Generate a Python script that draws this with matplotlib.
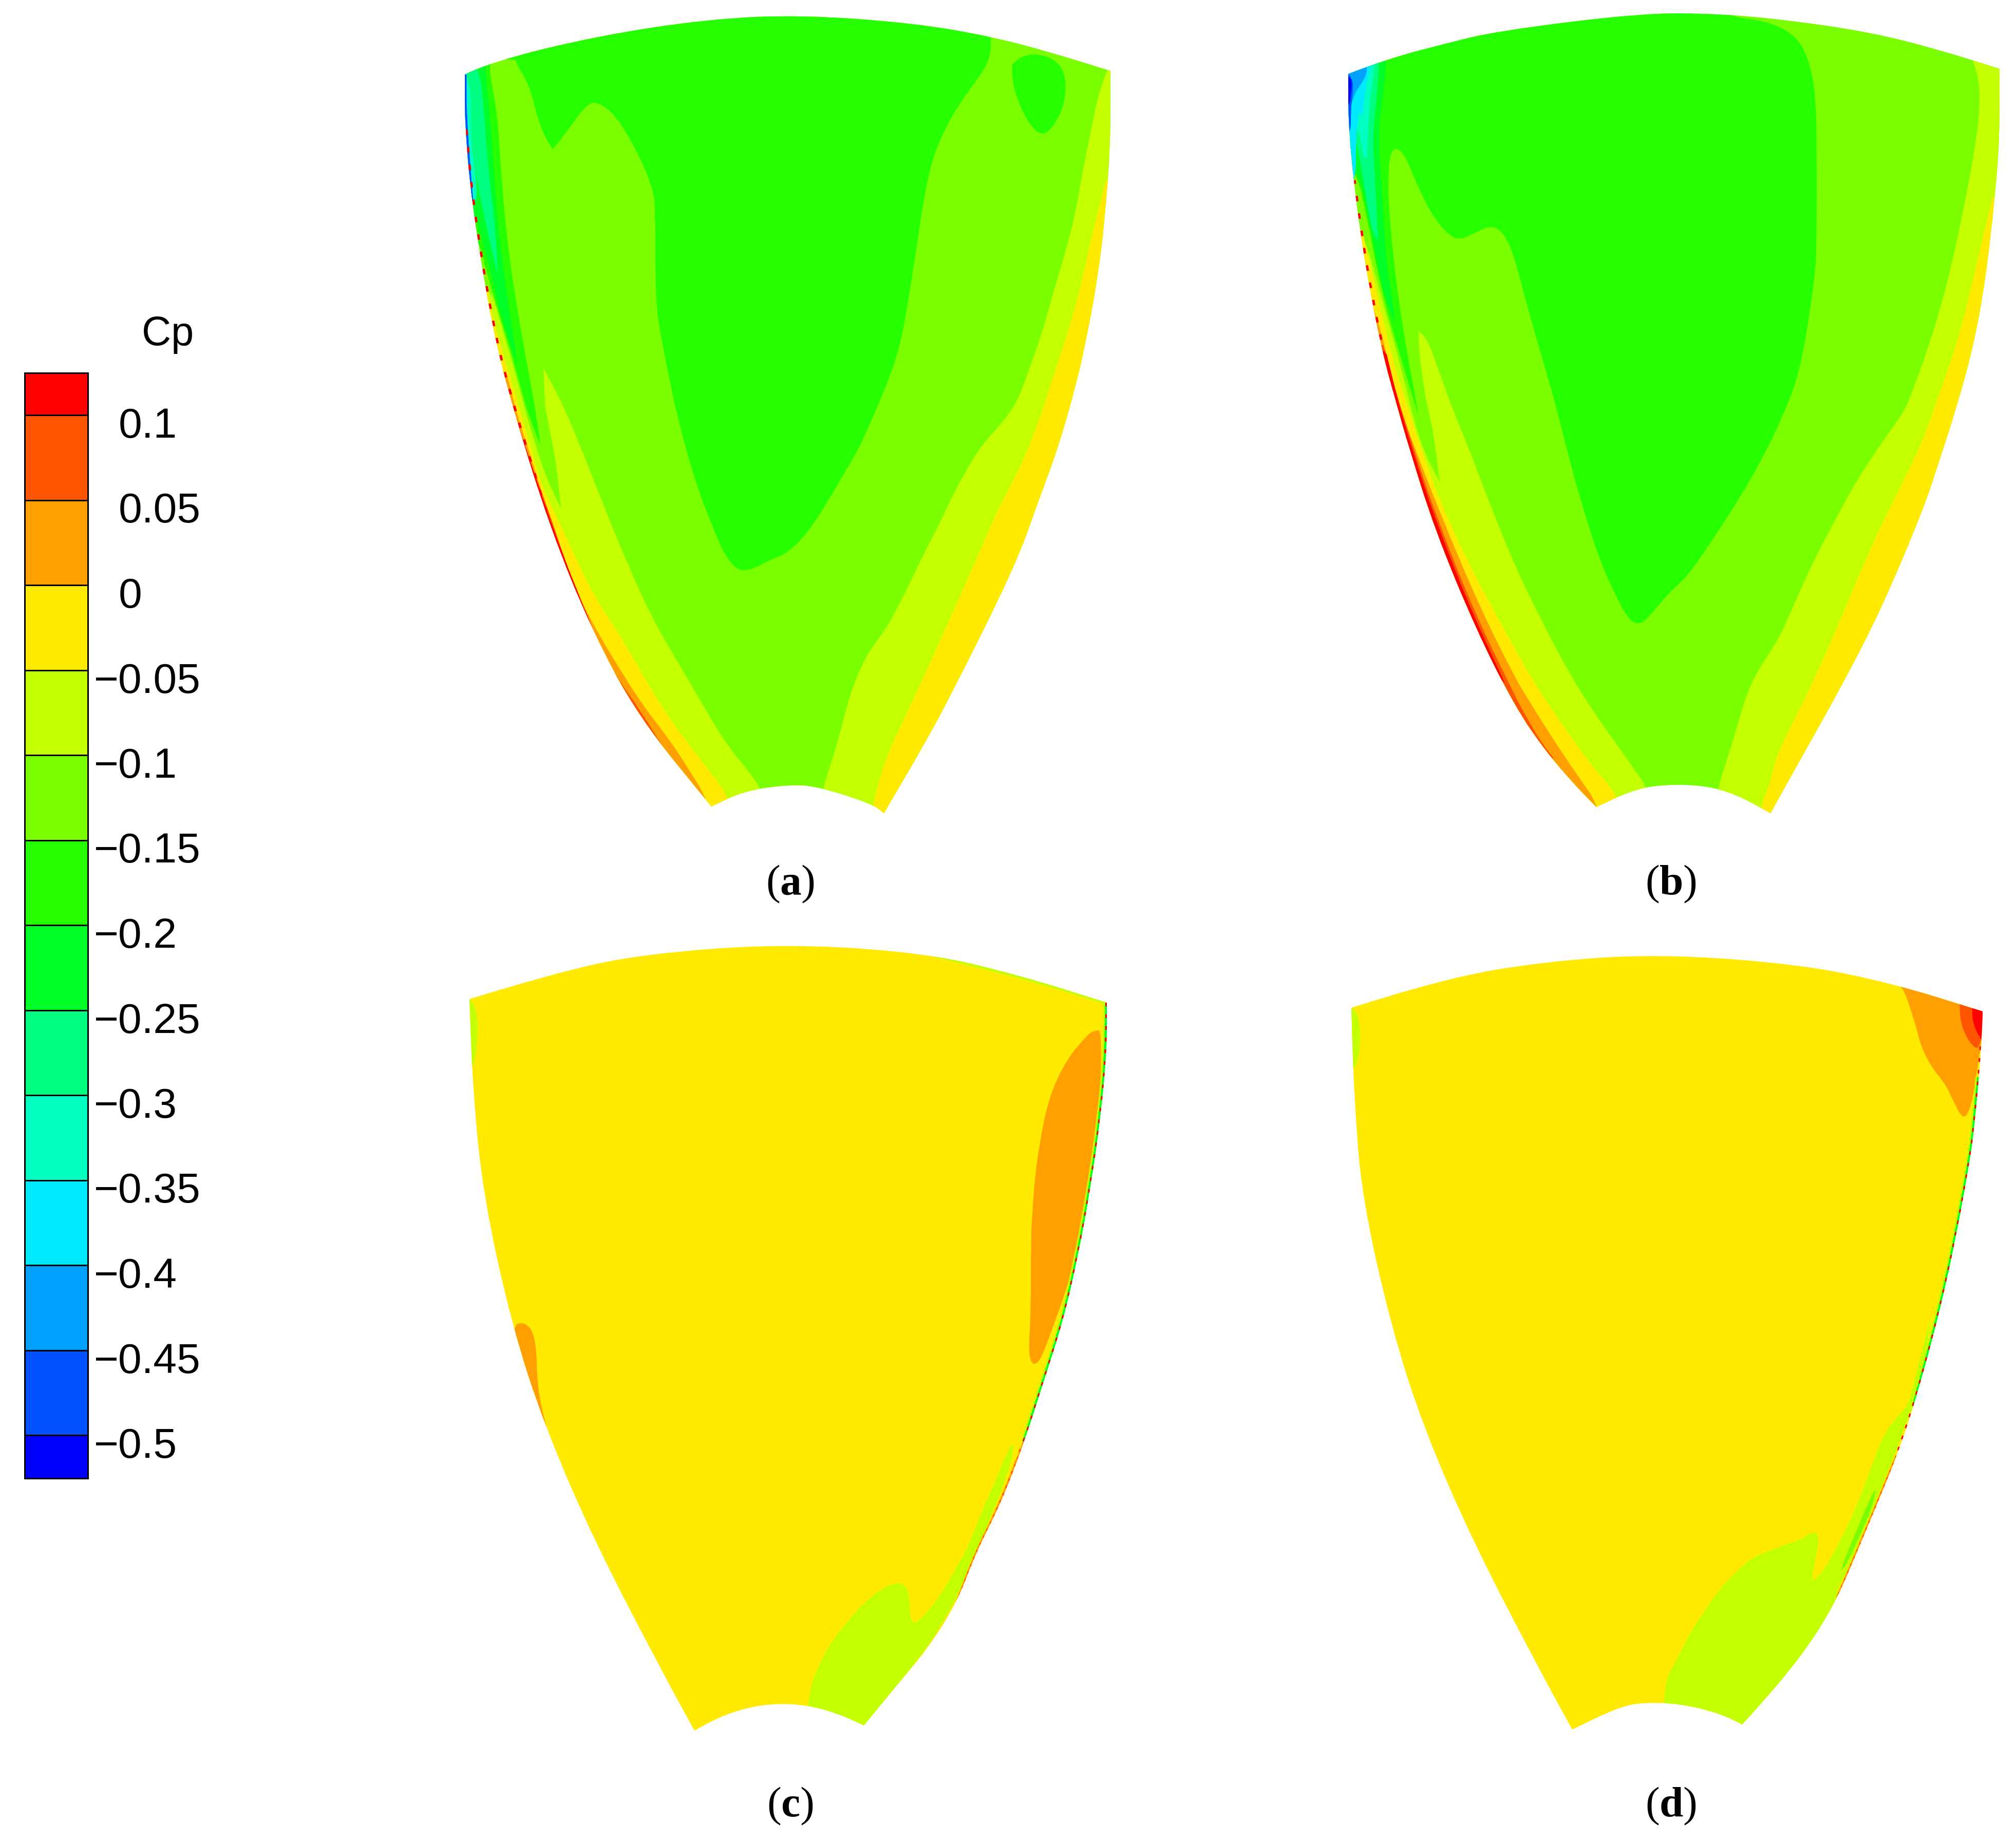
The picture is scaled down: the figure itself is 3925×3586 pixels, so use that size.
import matplotlib
matplotlib.use("Agg")
import matplotlib.pyplot as plt
from matplotlib.path import Path
from matplotlib.patches import PathPatch
import numpy as np

# --- colour bar ---
BANDS = ['#ff0000', '#ff5500', '#ffa000', '#ffea00', '#c3ff00', '#7bff00', '#26ff00',
         '#00ff26', '#00ff80', '#00ffc0', '#00eaff', '#00a0ff', '#0050ff', '#0000ff']
RED, RED2, ORANGE, YELLOW, YGREEN, LIME, GREEN, GREEN2, GREEN3, TEAL, CYAN, SKY, BLUE, NAVY = BANDS
CB_EDGES = [726, 808, 973.5, 1139, 1304.5, 1470, 1635.5, 1801, 1966.5, 2132, 2297.5, 2463, 2628.5, 2794, 2878]
CB_LABELS = ['0.1', '0.05', '0', '\u22120.05', '\u22120.1', '\u22120.15', '\u22120.2', '\u22120.25',
             '\u22120.3', '\u22120.35', '\u22120.4', '\u22120.45', '\u22120.5']

# --- panel (a), pixel coordinates ---
A_TOP = [(905, 145), (956, 120), (1168, 69), (1381, 37), (1560, 29), (1780, 45), (1929, 71), (2040, 100), (2162, 138)]
A_RIGHT = [(2162, 138), (2162, 281), (2151, 428), (2136, 549), (2113, 670), (2094, 753), (2059, 875), (2021, 977),
           (1977, 1101), (1852, 1352), (1800, 1448), (1721, 1583)]
A_HUB = [(1721, 1583), (1698, 1565), (1589, 1530), (1531, 1528), (1448, 1540), (1385, 1570)]
A_LEFT = [(1385, 1570), (1244, 1397), (1153, 1228), (1072, 1030), (1000, 800), (958, 638), (918, 393), (905, 240), (905, 145)]

A_R_YG = [(2155, 138), (2139, 179), (2124, 256), (2109, 326), (2094, 415), (2074, 492), (2051, 568), (2028, 651), (2005, 715),
          (1982, 779), (1956, 817), (1910, 868), (1879, 919), (1852, 970), (1829, 1020), (1800, 1075), (1761, 1157), (1726, 1223),
          (1698, 1259), (1675, 1300), (1652, 1361), (1629, 1453), (1603, 1530), (1590, 1600), (1800, 1600), (2250, 1000), (2250, 100)]
A_R_YEL = [(2153, 351), (2139, 409), (2124, 466), (2109, 536), (2086, 626), (2063, 696), (2040, 766), (2017, 836), (1982, 919),
           (1944, 989), (1931, 1020), (1865, 1170), (1800, 1315), (1761, 1397), (1721, 1484), (1699, 1568), (1690, 1620),
           (1800, 1620), (2250, 1000), (2250, 351)]
A_R_ORA = [(2100, 745), (2079, 818), (2051, 905), (2009, 1015), (1995, 1050), (2100, 1060), (2200, 745)]
A_L_YG = [(1058, 717), (1058, 717), (1079, 755), (1101, 800), (1129, 866), (1175, 984), (1221, 1096), (1267, 1198), (1302, 1259),
          (1359, 1356), (1416, 1453), (1482, 1530), (1500, 1600), (1300, 1600), (850, 700), (850, 545), (950, 545), (978, 638),
          (1014, 765), (1023, 800), (1032, 831), (1060, 922), (1092, 989), (1092, 989), (1083, 902), (1063, 800), (1061, 786), (1058, 717)]
A_L_YEL = [(949, 561), (949, 561), (956, 602), (971, 663), (1003, 765), (1012, 800), (1032, 866), (1055, 948), (1095, 1030), (1129, 1106),
           (1170, 1183), (1215, 1249), (1290, 1382), (1359, 1473), (1419, 1550), (1440, 1620), (1300, 1620), (850, 700), (850, 561)]
A_L_ORA = [(987, 730), (987, 730), (1009, 815), (1038, 902), (1060, 978), (1085, 1050), (1122, 1152), (1165, 1234), (1205, 1300),
           (1250, 1371), (1302, 1438), (1342, 1499), (1379, 1560), (1385, 1620), (1250, 1620), (850, 800), (850, 730)]
A_L_RO = [(1006, 815), (1006, 815), (1020, 866), (1061, 973), (1112, 1126), (1147, 1208), (1175, 1274), (1216, 1341), (1239, 1371),
          (1296, 1463), (1296, 1463), (1150, 1350), (850, 900), (850, 815)]
A_L_RED = [(1000, 800), (1000, 800), (1076, 1030), (1155, 1228), (1195, 1320), (1195, 1320), (1100, 1300), (900, 800)]
A_MAIN = [(850, 0), (1929, 0), (1929, 74), (1929, 103), (1919, 131), (1894, 166), (1864, 208), (1837, 256), (1814, 313), (1797, 396),
          (1787, 466), (1776, 536), (1764, 613), (1751, 677), (1730, 740), (1703, 804), (1672, 874), (1638, 930), (1623, 958),
          (1571, 1040), (1531, 1078), (1503, 1088), (1460, 1111), (1434, 1109), (1411, 1080), (1393, 1040), (1353, 938), (1316, 800),
          (1306, 750), (1288, 663), (1276, 587), (1276, 408), (1271, 367), (1244, 301), (1199, 224), (1163, 198), (1141, 204), (1101, 260),
          (1076, 291), (1076, 291), (1052, 250), (1030, 163), (1005, 125), (1005, 115), (954, 115), (954, 148), (969, 224), (976, 347), (989, 485),
          (1007, 602), (1027, 714), (1043, 800), (1052, 866), (1052, 866), (1026, 800), (1005, 720), (980, 638), (950, 540), (927, 449), (850, 449)]
A_POCKET = [(1971, 125), (1990, 106), (2036, 106), (2070, 131), (2076, 173), (2069, 211), (2051, 246), (2032, 263), (2013, 253),
            (1994, 224), (1977, 183), (1970, 147), (1971, 125)]
A_G2 = [(850, 100), (945, 100), (945, 138), (956, 245), (967, 423), (985, 561), (1007, 709), (1007, 709), (974, 612), (951, 510), (934, 449),
        (922, 408), (850, 400)]
A_G3 = [(922, 120), (934, 140), (942, 204), (949, 316), (965, 449), (969, 536), (969, 536), (951, 459), (927, 347), (916, 270), (880, 270), (880, 120)]
A_TEAL = [(880, 120), (918, 140), (916, 270), (927, 347), (930, 400), (880, 400)]
A_CYAN = [(880, 120), (908, 120), (911, 280), (920, 350), (920, 420), (880, 420)]

# --- panel (b) ---
B_TOP = [(2625, 144), (2697, 116), (2813, 85), (2917, 60), (3200, 25), (3348, 27), (3473, 38), (3639, 62), (3773, 96), (3893, 134)]
B_RIGHT = [(3893, 134), (3893, 271), (3884, 383), (3866, 542), (3843, 670), (3810, 791), (3773, 905), (3745, 990),
           (3664, 1183), (3588, 1331), (3511, 1468), (3447, 1583)]
B_HUB = [(3447, 1583), (3378, 1545), (3312, 1528), (3228, 1528), (3174, 1540), (3108, 1571)]
B_LEFT = [(3108, 1571), (3062, 1524), (3006, 1458), (2950, 1376), (2875, 1228), (2793, 1030), (2740, 860), (2723, 800), (2693, 693),
          (2668, 570), (2650, 463), (2635, 351), (2625, 233), (2625, 144)]

B_R_YG = [(3842, 121), (3854, 153), (3854, 223), (3842, 306), (3824, 402), (3801, 510), (3778, 600), (3750, 689), (3722, 765),
          (3708, 800), (3664, 861), (3613, 938), (3572, 1014), (3526, 1101), (3486, 1193), (3460, 1249), (3419, 1310), (3399, 1356),
          (3384, 1407), (3363, 1478), (3345, 1530), (3340, 1600), (3500, 1620), (3950, 1000), (3950, 100), (3842, 100)]
B_R_YEL = [(3880, 383), (3861, 459), (3838, 561), (3810, 670), (3778, 759), (3745, 855), (3705, 938), (3654, 1040), (3608, 1147),
           (3552, 1280), (3506, 1376), (3455, 1478), (3450, 1514), (3429, 1568), (3420, 1620), (3500, 1620), (3950, 1000), (3950, 383)]
B_MAIN = [(2600, 0), (3348, 0), (3366, 32), (3436, 41), (3482, 60), (3510, 89), (3528, 140), (3535, 198), (3537, 255), (3537, 491), (3533, 536),
          (3523, 612), (3510, 689), (3496, 746), (3475, 800), (3440, 876), (3394, 958), (3348, 1030), (3307, 1091), (3281, 1126), (3246, 1157),
          (3205, 1208), (3187, 1216), (3169, 1203), (3144, 1157), (3113, 1086), (3088, 1009), (3057, 902), (3032, 800), (3010, 723), (2973, 596),
          (2947, 494), (2927, 453), (2903, 438), (2873, 453), (2843, 467), (2820, 458), (2787, 417), (2757, 356), (2737, 305), (2720, 287), (2708, 295),
          (2703, 330), (2703, 392), (2712, 494), (2723, 585), (2737, 672), (2750, 744), (2762, 810), (2762, 810), (2735, 723), (2690, 570),
          (2660, 417), (2640, 330), (2600, 320)]
B_L_YG = [(2762, 644), (2762, 644), (2780, 662), (2800, 718), (2833, 810), (2855, 860), (2900, 980), (2950, 1103), (3001, 1208), (3052, 1305),
          (3103, 1387), (3154, 1458), (3190, 1509), (3205, 1532), (3220, 1600), (3050, 1600), (2600, 700), (2600, 443), (2652, 443), (2687, 570),
          (2730, 723), (2763, 860), (2803, 939), (2803, 939), (2793, 860), (2787, 825), (2773, 764), (2762, 677), (2762, 644)]
B_L_YEL = [(2652, 448), (2652, 448), (2680, 570), (2713, 708), (2743, 800), (2762, 860), (2800, 970), (2870, 1120), (2950, 1264), (2981, 1320),
           (3032, 1397), (3093, 1484), (3149, 1547), (3170, 1620), (3050, 1620), (2600, 700), (2600, 448)]
B_L_ORA = [(2672, 596), (2672, 596), (2687, 637), (2710, 733), (2732, 810), (2750, 860), (2800, 990), (2880, 1180), (2950, 1320), (2975, 1361),
           (3016, 1427), (3067, 1504), (3111, 1565), (3115, 1620), (3000, 1620), (2600, 800), (2600, 596)]
B_L_RO = [(2693, 672), (2693, 672), (2715, 755), (2748, 860), (2789, 985), (2865, 1180), (2950, 1356), (2970, 1392), (2996, 1438), (3026, 1478),
          (3026, 1478), (2900, 1400), (2600, 800), (2600, 672)]
B_L_RED = [(2700, 690), (2700, 690), (2719, 770), (2745, 860), (2785, 985), (2856, 1170), (2930, 1330), (2930, 1330), (2800, 1200), (2600, 600)]
B_G2 = [(2600, 100), (2698, 100), (2698, 147), (2693, 177), (2683, 264), (2693, 417), (2700, 519), (2713, 601), (2714, 626), (2714, 626),
        (2690, 560), (2668, 440), (2645, 330), (2600, 290)]
B_G3 = [(2600, 100), (2685, 100), (2685, 129), (2680, 193), (2672, 264), (2678, 366), (2683, 468), (2683, 468), (2670, 448), (2657, 366), (2643, 284),
        (2633, 250), (2600, 250)]
B_TEAL = [(2600, 100), (2677, 100), (2677, 129), (2667, 193), (2663, 264), (2662, 305), (2662, 305), (2655, 310), (2643, 238), (2600, 238)]
B_CYAN = [(2600, 100), (2670, 100), (2670, 129), (2660, 162), (2652, 228), (2652, 228), (2646, 215), (2640, 260), (2640, 365), (2600, 365)]
B_SKY = [(2600, 100), (2662, 100), (2662, 134), (2658, 152), (2637, 182), (2630, 208), (2600, 208)]
B_BLUE = [(2600, 120), (2634, 146), (2634, 182), (2630, 210), (2630, 265), (2600, 265)]
B_NAVY = [(2600, 130), (2630, 150), (2632, 162), (2630, 187), (2625, 210), (2600, 210)]

# --- panel (c) ---
C_TOP = [(914, 1945), (1076, 1895), (1252, 1857), (1527, 1837), (1802, 1855), (1983, 1898), (2155, 1952)]
C_RIGHT = [(2155, 1952), (2155, 2043), (2143, 2175), (2123, 2313), (2100, 2440), (2070, 2571), (2033, 2686), (1994, 2808), (1948, 2928),
           (1902, 3018), (1863, 3120), (1806, 3210), (1749, 3277), (1682, 3359)]
C_HUB = [(1682, 3359), (1634, 3337), (1576, 3320), (1510, 3316), (1452, 3325), (1400, 3343), (1352, 3369)]
C_LEFT = [(1352, 3369), (1289, 3254), (1159, 3004), (1061, 2778), (996, 2578), (941, 2328), (921, 2128), (914, 1945)]
C_ORANGE_BIG = [(2140, 2006), (2127, 2006), (2110, 2023), (2083, 2055), (2057, 2101), (2037, 2158), (2023, 2233), (2015, 2290), (2010, 2359),
                (2007, 2411), (2007, 2560), (2003, 2617), (2005, 2646), (2013, 2658), (2027, 2646), (2050, 2583), (2073, 2520), (2097, 2440),
                (2117, 2336), (2133, 2221), (2143, 2130), (2144, 2020), (2140, 2006)]
C_ORANGE_SMALL = [(1006, 2578), (1021, 2571), (1044, 2603), (1046, 2703), (1064, 2778), (1076, 2840), (1076, 2840), (1039, 2728), (1006, 2640), (1000, 2590)]
C_YG_HUB = [(1573, 3330), (1576, 3286), (1596, 3237), (1619, 3196), (1653, 3152), (1687, 3116), (1722, 3089), (1749, 3081), (1764, 3087), (1770, 3103),
            (1772, 3152), (1781, 3161), (1802, 3143), (1833, 3103), (1863, 3049), (1886, 3009), (1913, 2937), (1940, 2879), (1963, 2821), (1974, 2810),
            (1974, 2810), (1971, 2839), (1955, 2888), (1932, 2946), (1909, 3004), (1883, 3062), (1860, 3116), (1829, 3169), (1802, 3210), (1775, 3245),
            (1733, 3299), (1733, 3299), (1760, 3320), (1700, 3400), (1573, 3400)]
C_YG_LEFT = [(880, 1940), (932, 1925), (928, 2090), (880, 2090)]

# --- panel (d) ---
D_TOP = [(2631, 1962), (2803, 1907), (3003, 1872), (3229, 1857), (3504, 1877), (3687, 1915), (3860, 1969)]
D_RIGHT = [(3860, 1969), (3858, 2023), (3853, 2097), (3843, 2200), (3837, 2248), (3810, 2400), (3775, 2560), (3726, 2738), (3693, 2834),
           (3660, 2915), (3614, 3025), (3577, 3111), (3535, 3183), (3486, 3250), (3424, 3322), (3392, 3357)]
D_HUB = [(3392, 3357), (3349, 3336), (3274, 3317), (3200, 3314), (3150, 3324), (3061, 3367)]
D_LEFT = [(3061, 3367), (2998, 3252), (2868, 3002), (2770, 2776), (2707, 2577), (2651, 2328), (2636, 2128), (2631, 1962)]
D_ORANGE = [(3697, 1900), (3697, 1918), (3707, 1928), (3717, 1957), (3730, 1997), (3740, 2037), (3760, 2077), (3787, 2110), (3800, 2137), (3820, 2178),
            (3833, 2167), (3843, 2127), (3850, 2080), (3858, 2023), (3900, 1950)]
D_RO = [(3815, 1930), (3815, 1955), (3817, 1990), (3830, 2023), (3847, 2042), (3853, 2037), (3858, 2020), (3900, 1950)]
D_RED = [(3840, 1940), (3840, 1963), (3840, 1987), (3853, 2020), (3860, 2015), (3900, 1950)]
D_YG_HUB = [(3240, 3330), (3240, 3279), (3254, 3250), (3274, 3212), (3291, 3178), (3316, 3140), (3349, 3092), (3386, 3054), (3415, 3030), (3465, 3011),
            (3506, 2997), (3531, 2981), (3540, 2987), (3540, 3011), (3529, 3059), (3529, 3078), (3529, 3078), (3548, 3061), (3569, 3025), (3589, 2987),
            (3614, 2934), (3639, 2867), (3664, 2800), (3689, 2762), (3714, 2738), (3724, 2700), (3760, 2560), (3760, 2560), (3740, 2700), (3705, 2786),
            (3689, 2834), (3668, 2882), (3647, 2939), (3618, 3006), (3596, 3059), (3577, 3097), (3577, 3097), (3620, 3106), (3500, 3350), (3300, 3400), (3240, 3400)]
D_LIME = [(3650, 2901), (3650, 2901), (3637, 2925), (3614, 2982), (3593, 3030), (3585, 3056), (3585, 3056), (3593, 3049), (3618, 2996), (3643, 2939), (3652, 2906), (3650, 2901)]
D_YG_LEFT = [(2600, 1960), (2648, 1945), (2648, 2085), (2600, 2085)]

# panel captions
CAPTIONS = ['a', 'b', 'c', 'd']
CAPTION_X = [1539, 3254, 1539, 3254]
CAPTION_Y = [1741, 1741, 3536, 3536]
CAPTION_W = [40, 45, 36, 45]


def spline_verts(pts):
    # quadratic b-spline through midpoints, a doubled point makes a sharp corner
    verts = [pts[0]]
    codes = [Path.MOVETO]
    for i in range(1, len(pts) - 1):
        mid = ((pts[i][0] + pts[i + 1][0]) / 2, (pts[i][1] + pts[i + 1][1]) / 2)
        verts += [pts[i], mid]
        codes += [Path.CURVE3, Path.CURVE3]
    verts.append(pts[-1])
    codes.append(Path.LINETO)
    return verts, codes


def closed_path(pts):
    verts, codes = spline_verts(pts)
    return Path(verts + [pts[0]], codes + [Path.CLOSEPOLY])


def open_path(pts):
    verts, codes = spline_verts(pts)
    return Path(verts, codes)


def draw_panel(ax, outline, base, layers, edges):
    blade = PathPatch(closed_path(outline), facecolor=base, edgecolor='none', lw=0)
    ax.add_patch(blade)
    for color, pts in layers:
        p = PathPatch(closed_path(pts), facecolor=color, edgecolor='none', lw=0)
        ax.add_patch(p)
        p.set_clip_path(blade)
    for color, pts, width, style in edges:
        p = PathPatch(open_path(pts), facecolor='none', edgecolor=color, lw=width * 0.72, linestyle=style, capstyle='butt')
        ax.add_patch(p)
        p.set_clip_path(blade)


fig = plt.figure(figsize=(39.25, 35.86), dpi=100)
ax = fig.add_axes([0, 0, 1, 1])
ax.set_xlim(0, 3925)
ax.set_ylim(3586, 0)
ax.axis('off')

DOTS = (0, (1.2, 2.6))

draw_panel(ax, A_TOP + A_RIGHT + A_HUB + A_LEFT, LIME,
           [(YGREEN, A_R_YG), (YELLOW, A_R_YEL), (ORANGE, A_R_ORA),
            (YGREEN, A_L_YG), (YELLOW, A_L_YEL), (ORANGE, A_L_ORA), (RED2, A_L_RO), (RED, A_L_RED),
            (GREEN, A_MAIN), (GREEN, A_POCKET), (GREEN2, A_G2), (GREEN3, A_G3), (TEAL, A_TEAL), (CYAN, A_CYAN)],
           [(BLUE, A_LEFT[6:], 7, '-'), (RED, A_LEFT[3:8], 9, DOTS)])

draw_panel(ax, B_TOP + B_RIGHT + B_HUB + B_LEFT, LIME,
           [(YGREEN, B_R_YG), (YELLOW, B_R_YEL),
            (YGREEN, B_L_YG), (YELLOW, B_L_YEL), (ORANGE, B_L_ORA), (RED2, B_L_RO), (RED, B_L_RED),
            (GREEN, B_MAIN), (GREEN2, B_G2), (GREEN3, B_G3), (TEAL, B_TEAL), (CYAN, B_CYAN),
            (SKY, B_SKY), (BLUE, B_BLUE), (NAVY, B_NAVY)],
           [(RED, B_LEFT[6:12], 9, DOTS)])

draw_panel(ax, C_TOP + C_RIGHT + C_HUB + C_LEFT, YELLOW,
           [(ORANGE, C_ORANGE_BIG), (ORANGE, C_ORANGE_SMALL), (YGREEN, C_YG_HUB), (YGREEN, C_YG_LEFT)],
           [(YGREEN, C_TOP[4:], 8, '-'), (YGREEN, C_RIGHT[:8], 14, '-'), (GREEN2, C_RIGHT[:8], 7, '-'),
            (RED, C_RIGHT[:9], 6, DOTS), (ORANGE, C_RIGHT[7:11], 6, '-'), (RED2, C_RIGHT[7:11], 4, DOTS)])

draw_panel(ax, D_TOP + D_RIGHT + D_HUB + D_LEFT, YELLOW,
           [(ORANGE, D_ORANGE), (RED2, D_RO), (RED, D_RED), (YGREEN, D_YG_HUB), (LIME, D_LIME), (YGREEN, D_YG_LEFT)],
           [(YGREEN, D_RIGHT[2:8], 14, '-'), (GREEN2, D_RIGHT[2:8], 7, '-'), (RED, D_RIGHT[:9], 6, DOTS),
            (ORANGE, D_RIGHT[8:12], 6, '-'), (RED2, D_RIGHT[8:12], 4, DOTS)])

# colour bar
edges = np.array(CB_EDGES)
ax.bar([109.5] * len(BANDS), np.diff(edges), bottom=edges[:-1], width=123, color=BANDS,
       edgecolor='black', linewidth=3 * 0.72)

ax.text(327, 672, 'Cp', fontsize=57, family='Liberation Sans', ha='center', va='baseline')
for y, lab in zip(edges[1:], CB_LABELS):
    x = 183 if lab.startswith('\u2212') else 231
    ax.text(x, y + 44, lab, fontsize=59, family='Liberation Sans', ha='left', va='baseline')

# parens in regular, the letter in bold
for x, y, w, cap in zip(CAPTION_X, CAPTION_Y, CAPTION_W, CAPTIONS):
    ax.text(x, y, cap, fontsize=60, family='Liberation Serif', weight='bold', ha='center', va='baseline')
    ax.text(x - w / 2, y, '(', fontsize=60, family='Liberation Serif', ha='right', va='baseline')
    ax.text(x + w / 2, y, ')', fontsize=60, family='Liberation Serif', ha='left', va='baseline')

fig.savefig('out.png', dpi=100)
